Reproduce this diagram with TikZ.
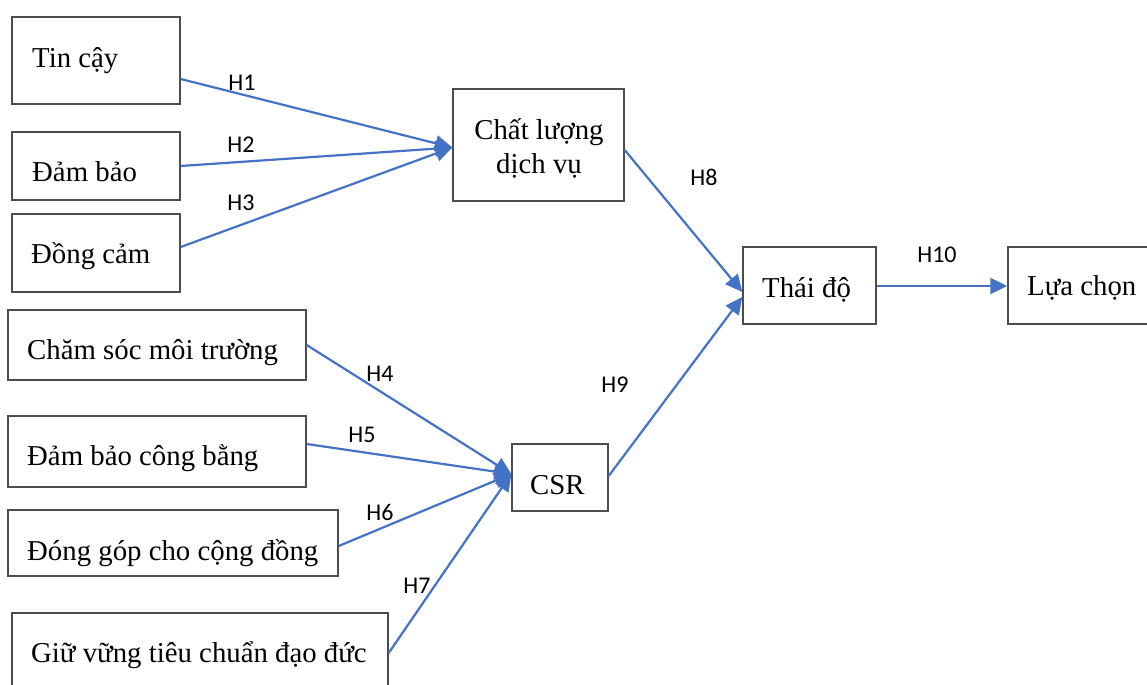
\documentclass[tikz,border=0pt]{standalone}
\usepackage{fontspec}
\setmainfont{Liberation Serif}
\newfontfamily\hypfont{Carlito}
\usetikzlibrary{arrows.meta}
\definecolor{linkblue}{HTML}{4472C4}
\begin{document}
\begin{tikzpicture}[x=1bp,y=-1bp,
  box/.style={draw=black!70, line width=1.4bp, inner sep=0, fill=white},
  caption/.style={inner sep=0, anchor=base west, font=\fontsize{28.8bp}{34bp}\selectfont},
  hyp/.style={inner sep=0, font=\hypfont\fontsize{24bp}{28bp}\selectfont},
  link/.style={draw=linkblue, line width=2.2bp, -{Triangle[length=17bp,width=16bp]}}]
\useasboundingbox (0,0) rectangle (1147,685);

% boxes
\node[box, minimum width=168bp, minimum height=87bp] (tin) at (96,60.5) {};
\node[box, minimum width=168bp, minimum height=68bp] (dambao) at (96,166) {};
\node[box, minimum width=168bp, minimum height=78bp] (dongcam) at (96,253) {};
\node[box, minimum width=171bp, minimum height=112bp] (clv) at (538.5,145) {};
\node[box, minimum width=133bp, minimum height=77bp] (thaido) at (809.5,285.5) {};
\node[box, minimum width=144bp, minimum height=77bp] (luachon) at (1080,285.5) {};
\node[box, minimum width=298bp, minimum height=70bp] (moitruong) at (157,345) {};
\node[box, minimum width=298bp, minimum height=71bp] (congbang) at (157,451.5) {};
\node[box, minimum width=330bp, minimum height=66bp] (congdong) at (173,543) {};
\node[box, minimum width=376bp, minimum height=80bp] (daoduc) at (200,653) {};
\node[box, minimum width=96bp, minimum height=67bp] (csr) at (560,477.5) {};

% box texts
\node[caption] (tTin) at (32,68) {Tin cậy};
\node[caption] (tDamBao) at (32,182) {Đảm bảo};
\node[caption] (tDongCam) at (31,263) {Đồng cảm};
\node[caption, anchor=base] (tClv1) at (539,140) {Chất lượng};
\node[caption, anchor=base] (tClv2) at (539,174) {dịch vụ};
\node[caption] (tThaiDo) at (762,297) {Thái độ};
\node[caption] (tLuaChon) at (1027,295) {Lựa chọn};
\node[caption] (tMoiTruong) at (27,359) {Chăm sóc môi trường};
\node[caption] (tCongBang) at (27,465) {Đảm bảo công bằng};
\node[caption] (tCongDong) at (27,560) {Đóng góp cho cộng đồng};
\node[caption] (tDaoDuc) at (31,662) {Giữ vững tiêu chuẩn đạo đức};
\node[caption] (tCsr) at (530,494) {CSR};

% hypothesis paths
\draw[link] ([yshift=-18.5bp]tin.east) -- ([yshift=-2.5bp]clv.west);
\draw[link] (dambao.east) -- ([yshift=-2.5bp]clv.west);
\draw[link] ([yshift=6bp]dongcam.east) -- ([yshift=-2.5bp]clv.west);
\draw[link] (moitruong.east) -- ([yshift=3.5bp]csr.west);
\draw[link] ([yshift=7.5bp]congbang.east) -- ([yshift=3.5bp]csr.west);
\draw[link] ([yshift=-3bp]congdong.east) -- ([yshift=3.5bp]csr.west);
\draw[link] (daoduc.east) -- ([yshift=3.5bp]csr.west);
\draw[link] ([yshift=-5bp]clv.east) -- ([yshift=-6.5bp]thaido.west);
\draw[link] ([yshift=1.5bp]csr.east) -- ([yshift=-11.5bp]thaido.west);
\draw[link] ([yshift=-0.5bp]thaido.east) -- ([yshift=-0.5bp]luachon.west);

% hypothesis labels
\node[hyp] (h1) at (242,83) {H1};
\node[hyp] (h2) at (241,145) {H2};
\node[hyp] (h3) at (241,203) {H3};
\node[hyp] (h4) at (380,374) {H4};
\node[hyp] (h5) at (362,435) {H5};
\node[hyp] (h6) at (380,512) {H6};
\node[hyp] (h7) at (417,586) {H7};
\node[hyp] (h8) at (704,177) {H8};
\node[hyp] (h9) at (615,385) {H9};
\node[hyp] (h10) at (937,255) {H10};
\end{tikzpicture}
\end{document}
